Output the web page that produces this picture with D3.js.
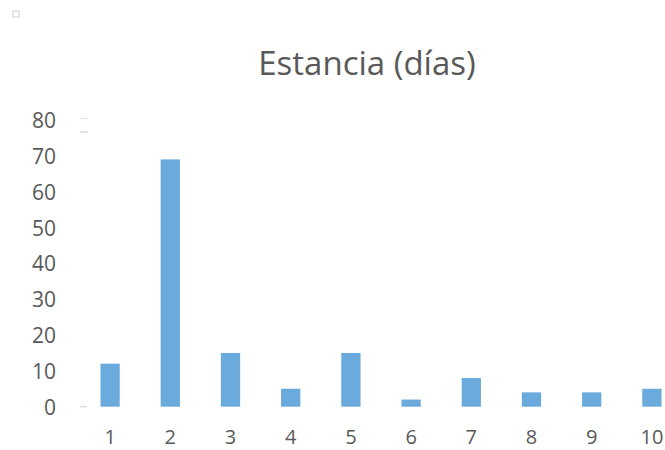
<!DOCTYPE html>
<html><head><meta charset="utf-8">
<script src="https://cdn.jsdelivr.net/npm/d3@7"></script>
<style>body{margin:0;background:#fff}text{font-family:"Open Sans",sans-serif}</style>
</head><body>
<svg id="c" width="665" height="450"></svg>
<script>
const categories = ["1","2","3","4","5","6","7","8","9","10"];
const values = [12, 69, 15, 5, 15, 2, 8, 4, 4, 5];
const yTicks = [0,10,20,30,40,50,60,70,80];
const title = "Estancia (días)";

const svg = d3.select("#c");
const y = d3.scaleLinear().domain([0,80]).range([406.7,120]);
const x = d3.scaleBand().domain(categories).range([80,682]).paddingInner(0.68).paddingOuter(0.34);

svg.append("rect").attr("x",13).attr("y",11).attr("width",6).attr("height",6)
  .attr("fill","none").attr("stroke","#d9d9d9").attr("stroke-width",1.3);

svg.append("text").attr("x",367).attr("y",75).attr("text-anchor","middle")
  .attr("font-size",33).attr("fill","#595959").text(title);

// small grey marks
svg.append("line").attr("x1",80).attr("x2",87).attr("y1",118.5).attr("y2",118.5).attr("stroke","#e0e0e0").attr("stroke-width",1);
svg.append("line").attr("x1",80).attr("x2",88).attr("y1",132).attr("y2",132).attr("stroke","#d9d9d9").attr("stroke-width",1.5);
svg.append("line").attr("x1",80).attr("x2",87).attr("y1",y(0)).attr("y2",y(0)).attr("stroke","#d9d9d9").attr("stroke-width",1.3);

svg.append("g").selectAll("text").data(yTicks).join("text")
  .attr("x",56).attr("y",d=>y(d)+2.5).attr("text-anchor","end").attr("dominant-baseline","middle")
  .attr("font-size",21).attr("fill","#595959").text(d=>d);

svg.append("g").selectAll("rect").data(values).join("rect")
  .attr("x",(d,i)=>x(categories[i])).attr("width",x.bandwidth())
  .attr("y",d=>y(d)).attr("height",d=>y(0)-y(d)).attr("fill","#6aaadc");

svg.append("g").selectAll("text").data(categories).join("text")
  .attr("x",d=>x(d)+x.bandwidth()/2).attr("y",444).attr("text-anchor","middle")
  .attr("font-size",20).attr("fill","#595959").text(d=>d);
</script>
</body></html>
